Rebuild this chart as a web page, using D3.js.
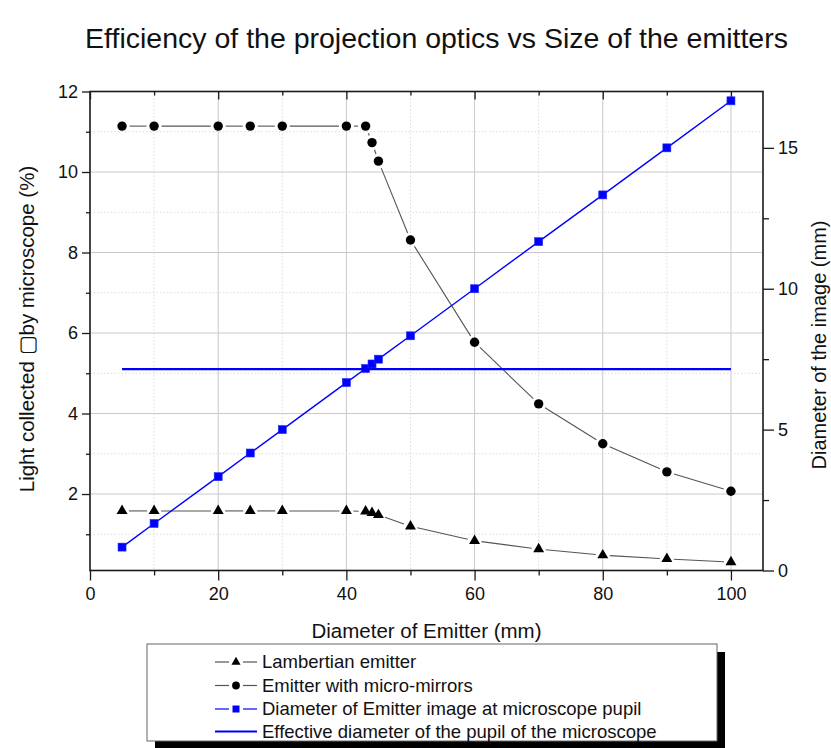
<!DOCTYPE html>
<html>
<head>
<meta charset="utf-8">
<script src="https://cdn.jsdelivr.net/npm/d3@7"></script>
<style>
  html, body { margin: 0; padding: 0; background: #fff; }
  svg { display: block; font-family: "Liberation Sans", Arial, sans-serif; }
</style>
</head>
<body>
<svg id="chart" width="831" height="748"></svg>
<script>
// Emitter diameters (mm) sampled in the simulation
const emitterDiameter = [5, 10, 20, 25, 30, 40, 43, 44, 45, 50, 60, 70, 80, 90, 100];
// Light collected by the microscope (%)
const lambertian   = [1.58, 1.58, 1.58, 1.58, 1.58, 1.58, 1.57, 1.53, 1.48, 1.20, 0.84, 0.63, 0.48, 0.39, 0.31];
const microMirrors = [11.14, 11.14, 11.14, 11.14, 11.14, 11.14, 11.14, 10.73, 10.27, 8.31, 5.77, 4.24, 3.25, 2.55, 2.07];
// Diameter of the emitter image at the microscope pupil (mm)
const imageDiameter = [0.83, 1.67, 3.33, 4.17, 5.00, 6.67, 7.17, 7.33, 7.50, 8.33, 10.00, 11.67, 13.33, 15.00, 16.67];
// Effective pupil diameter of the microscope (mm) and the span it is drawn over
const pupilDiameter = 7.15;
const pupilSpan = [5, 100];

// Axis ticks
const xMajorTicks = [0, 20, 40, 60, 80, 100];
const xMinorTicks = [10, 30, 50, 70, 90];
const yLeftMajorTicks = [2, 4, 6, 8, 10, 12];
const yLeftMinorTicks = [1, 3, 5, 7, 9, 11];
const yRightMajorTicks = [0, 5, 10, 15];
const yRightMinorTicks = [2.5, 7.5, 12.5];

const titleText = "Efficiency of the projection optics vs Size of the emitters";
const xLabel = "Diameter of Emitter (mm)";
const yLeftLabel = "Light collected \u25A2by microscope (%)";
const yRightLabel = "Diameter of the image (mm)";
const legendLabels = [
  "Lambertian emitter",
  "Emitter with micro-mirrors",
  "Diameter of Emitter image at microscope pupil",
  "Effective diameter of the pupil of the microscope"
];

const svg = d3.select("#chart");
const L = 90, R = 763, T = 91.5, B = 570.5;

const x = d3.scaleLinear().domain([0, 105]).range([L, R]);
const yL = d3.scaleLinear().domain([0.1, 12]).range([B, T]);
const yR = d3.scaleLinear().domain([0, 17]).range([B, T]);

const FRAME = "#1a1a1a";
const BLUE = "#0000ff";
const TEXT = "#111";

// Grid
const grid = svg.append("g");
grid.selectAll(".vmaj").data(xMajorTicks.filter(d => d > 0)).join("line")
  .attr("x1", d => x(d)).attr("x2", d => x(d)).attr("y1", T).attr("y2", B)
  .attr("stroke", "#c9c9c9").attr("stroke-width", 1);
grid.selectAll(".vmin").data(xMinorTicks).join("line")
  .attr("x1", d => x(d)).attr("x2", d => x(d)).attr("y1", T).attr("y2", B)
  .attr("stroke", "#dcdcdc").attr("stroke-width", 1).attr("stroke-dasharray", "1.5,2");
grid.selectAll(".hmaj").data(yLeftMajorTicks.filter(d => d < 12)).join("line")
  .attr("x1", L).attr("x2", R).attr("y1", d => yL(d)).attr("y2", d => yL(d))
  .attr("stroke", "#c9c9c9").attr("stroke-width", 1);
grid.selectAll(".hmin").data(yLeftMinorTicks).join("line")
  .attr("x1", L).attr("x2", R).attr("y1", d => yL(d)).attr("y2", d => yL(d))
  .attr("stroke", "#dcdcdc").attr("stroke-width", 1).attr("stroke-dasharray", "1.5,2");

// Axes
function styleAxis(g) {
  g.select(".domain").remove();
  g.selectAll("line").attr("stroke", FRAME).attr("stroke-width", 1.3);
  g.selectAll("text").attr("fill", TEXT).style("font-size", "18px");
}
const fmt = d3.format("d");

// bottom
svg.append("g").attr("transform", `translate(0,${B})`)
  .call(d3.axisBottom(x).tickValues(xMinorTicks).tickSize(5).tickFormat(""))
  .call(styleAxis);
svg.append("g").attr("transform", `translate(0,${B})`)
  .call(d3.axisBottom(x).tickValues(xMajorTicks).tickSize(10).tickPadding(7).tickFormat(fmt))
  .call(styleAxis);
// top (inward ticks)
svg.append("g").attr("transform", `translate(0,${T})`)
  .call(d3.axisBottom(x).tickValues(xMinorTicks).tickSize(4).tickFormat(""))
  .call(styleAxis);
svg.append("g").attr("transform", `translate(0,${T})`)
  .call(d3.axisBottom(x).tickValues(xMajorTicks).tickSize(8).tickFormat(""))
  .call(styleAxis);
// left
svg.append("g").attr("transform", `translate(${L},0)`)
  .call(d3.axisLeft(yL).tickValues(yLeftMinorTicks).tickSize(4).tickFormat(""))
  .call(styleAxis);
svg.append("g").attr("transform", `translate(${L},0)`)
  .call(d3.axisLeft(yL).tickValues(yLeftMajorTicks).tickSize(8).tickPadding(4).tickFormat(fmt))
  .call(styleAxis);
// right
svg.append("g").attr("transform", `translate(${R},0)`)
  .call(d3.axisRight(yR).tickValues(yRightMinorTicks).tickSize(6).tickFormat(""))
  .call(styleAxis);
svg.append("g").attr("transform", `translate(${R},0)`)
  .call(d3.axisRight(yR).tickValues(yRightMajorTicks).tickSize(11).tickPadding(4).tickFormat(fmt))
  .call(styleAxis);

// Frame
svg.append("rect").attr("x", L).attr("y", T).attr("width", R - L).attr("height", B - T)
  .attr("fill", "none").attr("stroke", FRAME).attr("stroke-width", 1.6);

// Black series: segments stop short of the markers
function gappedSegments(xs, ys, yScale, gap) {
  const pts = xs.map((d, i) => [x(d), yScale(ys[i])]);
  const segs = [];
  for (let i = 0; i < pts.length - 1; i++) {
    const [x0, y0] = pts[i], [x1, y1] = pts[i + 1];
    const dx = x1 - x0, dy = y1 - y0, d = Math.hypot(dx, dy);
    if (d > 2 * gap + 1) {
      const ux = dx / d, uy = dy / d;
      segs.push([x0 + ux * gap, y0 + uy * gap, x1 - ux * gap, y1 - uy * gap]);
    }
  }
  return segs;
}

function drawGapped(ys, gap) {
  svg.append("g").selectAll("line").data(gappedSegments(emitterDiameter, ys, yL, gap)).join("line")
    .attr("x1", d => d[0]).attr("y1", d => d[1]).attr("x2", d => d[2]).attr("y2", d => d[3])
    .attr("stroke", "#555").attr("stroke-width", 1.1);
}
drawGapped(lambertian, 7);
drawGapped(microMirrors, 7.5);

const triSym = d3.symbol().type(d3.symbolTriangle).size(52);
svg.append("g").selectAll("path").data(emitterDiameter).join("path")
  .attr("d", triSym)
  .attr("transform", (d, i) => `translate(${x(d)},${yL(lambertian[i])})`)
  .attr("fill", "#000");

svg.append("g").selectAll("circle").data(emitterDiameter).join("circle")
  .attr("cx", d => x(d)).attr("cy", (d, i) => yL(microMirrors[i])).attr("r", 4.7)
  .attr("fill", "#000");

// Image diameter (right axis)
const lineR = d3.line().x(d => x(d[0])).y(d => yR(d[1]));
svg.append("path")
  .datum(emitterDiameter.map((d, i) => [d, imageDiameter[i]]))
  .attr("d", lineR).attr("fill", "none").attr("stroke", BLUE).attr("stroke-width", 1.4);
svg.append("g").selectAll("rect").data(emitterDiameter).join("rect")
  .attr("x", d => x(d) - 4).attr("y", (d, i) => yR(imageDiameter[i]) - 4)
  .attr("width", 8).attr("height", 8)
  .attr("fill", BLUE).attr("stroke", "#2a2aff").attr("stroke-width", 0.6);

// Pupil diameter
svg.append("line")
  .attr("x1", x(pupilSpan[0])).attr("x2", x(pupilSpan[1]))
  .attr("y1", yR(pupilDiameter)).attr("y2", yR(pupilDiameter))
  .attr("stroke", BLUE).attr("stroke-width", 2.2);

// Titles
svg.append("text").attr("x", 436.5).attr("y", 48).attr("text-anchor", "middle")
  .style("font-size", "28.5px").attr("fill", TEXT).text(titleText);
svg.append("text").attr("x", (L + R) / 2).attr("y", 638).attr("text-anchor", "middle")
  .style("font-size", "20.5px").attr("fill", TEXT).text(xLabel);
svg.append("text").attr("transform", `translate(33.5,${(T + B) / 2 - 2}) rotate(-90)`)
  .attr("text-anchor", "middle").style("font-size", "20.5px").attr("fill", TEXT).text(yLeftLabel);
svg.append("text").attr("transform", `translate(826,345) rotate(-90)`)
  .attr("text-anchor", "middle").style("font-size", "20px").attr("fill", TEXT).text(yRightLabel);

// Legend
const lg = svg.append("g");
const LX = 147, LY = 644, LW = 570, LH = 97;
lg.append("rect").attr("x", LX + 8).attr("y", LY + 8).attr("width", LW).attr("height", LH).attr("fill", "#000");
lg.append("rect").attr("x", LX).attr("y", LY).attr("width", LW).attr("height", LH)
  .attr("fill", "#fff").attr("stroke", "#666").attr("stroke-width", 1);
const rowY = [662, 685.5, 709, 731.5];
const sx0 = 215, sx1 = 257, sxm = 236, tx = 262;
legendLabels.forEach((lab, i) => {
  const y = rowY[i];
  const g = lg.append("g");
  if (i < 3) {
    const col = i < 2 ? "#555" : BLUE;
    g.append("line").attr("x1", sx0).attr("x2", sxm - 7).attr("y1", y).attr("y2", y).attr("stroke", col).attr("stroke-width", 1.2);
    g.append("line").attr("x1", sxm + 7).attr("x2", sx1).attr("y1", y).attr("y2", y).attr("stroke", col).attr("stroke-width", 1.2);
  } else {
    g.append("line").attr("x1", sx0).attr("x2", sx1).attr("y1", y).attr("y2", y).attr("stroke", BLUE).attr("stroke-width", 2.2);
  }
  if (i === 0) g.append("path").attr("d", d3.symbol().type(d3.symbolTriangle).size(36)()).attr("transform", `translate(${sxm},${y})`).attr("fill", "#000");
  if (i === 1) g.append("circle").attr("cx", sxm).attr("cy", y).attr("r", 3.9).attr("fill", "#000");
  if (i === 2) g.append("rect").attr("x", sxm - 3.5).attr("y", y - 3.5).attr("width", 7).attr("height", 7).attr("fill", BLUE);
  g.append("text").attr("x", tx).attr("y", y).attr("dy", "0.35em").style("font-size", "18.5px").attr("fill", TEXT).text(lab);
});
</script>
</body>
</html>
